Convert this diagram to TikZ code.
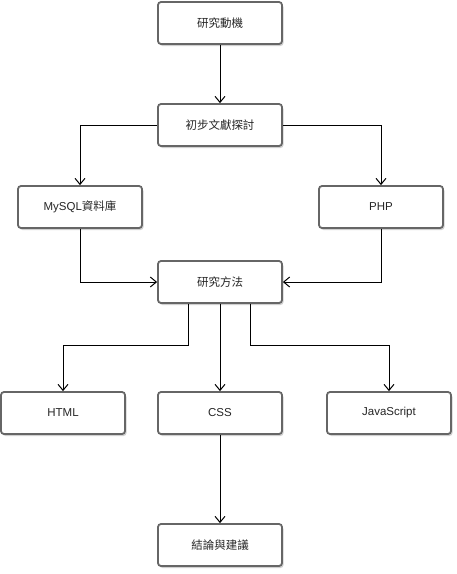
\documentclass[tikz,border=0pt]{standalone}
\usepackage{fontspec}
\setmainfont{Liberation Sans}
\newfontfamily\cjk{Noto Sans CJK TC}
\usetikzlibrary{arrows.meta,shadows}
\definecolor{boxline}{RGB}{102,102,102}
\begin{document}
\begin{tikzpicture}[x=1pt,y={(0,-1pt)},line width=1pt,
  main node/.style={rectangle,rounded corners=3pt,draw=boxline,line width=1.8pt,fill=white,
    minimum width=124pt,minimum height=42pt,font=\fontsize{11.5}{14}\selectfont,text=black!85,
    drop shadow={shadow xshift=1.5pt,shadow yshift=-2pt,opacity=0.3,fill=black!60}},
  flow/.style={-{Straight Barb[length=6pt,width=10pt,line width=1pt]}}]
  \useasboundingbox[fill=white] (0,0) rectangle (457,574);

  \node[main node] at (220,23) (motive) {\cjk 研究動機};
  \node[main node] at (220,125) (review) {\cjk 初步文獻探討};

  \node[main node] at (80,207) (mysql) {MySQL{\cjk 資料庫}};
  \node[main node] at (381,207) (php) {PHP};

  \node[main node] at (220,282) (method) {\cjk 研究方法};

  \node[main node] at (63,413) (html) {HTML};
  \node[main node] at (220,413) (css) {CSS};
  \node[main node] at (389,413) (js) {JavaScript};

  \node[main node] at (220,545) (concl) {\cjk 結論與建議};

  \draw[flow] (motive) -- (review);
  \draw[flow] (review.west) -| (mysql.north);
  \draw[flow] (review.east) -| (php.north);
  \draw[flow] (mysql.south) |- (method.west);
  \draw[flow] (php.south) |- (method.east);

  \draw[flow] ([xshift=-32pt]method.south) -- ++(0,42) -| (html.north);
  \draw[flow] (method) -- (css);
  \draw[flow] ([xshift=30pt]method.south) -- ++(0,42) -| (js.north);

  \draw[flow] (css) -- (concl);
\end{tikzpicture}
\end{document}
